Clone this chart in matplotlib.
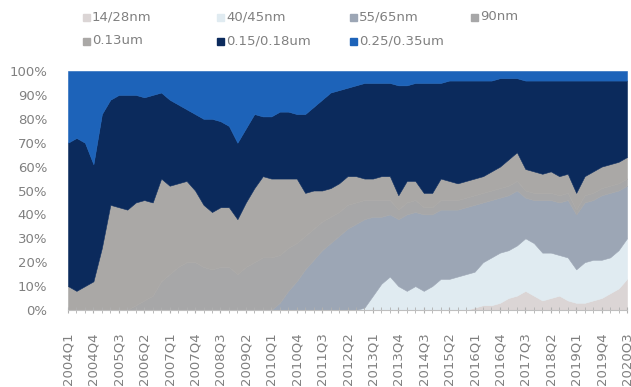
import matplotlib
matplotlib.use('Agg')
import matplotlib.pyplot as plt
from matplotlib.patches import Rectangle
import numpy as np

# Quarter labels 2004Q1 .. 2020Q3
quarters = ['{}Q{}'.format(y, q) for y in range(2004, 2021) for q in range(1, 5)][:67]

series_names = ['14/28nm', '40/45nm', '55/65nm', '90nm', '0.13um', '0.15/0.18um', '0.25/0.35um']
series_colors = ['#dbd5d5', '#e0ebf1', '#9ca6b5', '#a7a7a8', '#aaa8a6', '#0b2a5c', '#1d63b9']

# Shares (%) per quarter
nm_14_28 = [0]*48 + [1, 2, 2, 3, 5, 6, 8, 6, 4, 5, 6, 4, 3, 3, 4, 5, 7, 9, 13]
nm_40_45 = [0]*35 + [1, 6, 11, 14, 10, 8, 10, 8, 10, 13, 13, 14, 15,
                     15, 18, 20, 21, 20, 21, 22, 22, 20, 19, 17, 18, 14, 17, 17, 16, 15, 16, 17]
nm_55_65 = [0]*25 + [3, 8, 12, 17, 21, 25, 28, 31, 34, 36, 37, 33, 28, 26, 28, 32, 31, 32, 30,
                     29, 29, 28, 28, 28, 25, 24, 23, 23, 23, 17, 18, 22, 22, 22, 24, 23,
                     25, 25, 27, 27, 25, 22]
nm_90 = [0]*8 + [2, 4, 6, 12, 15, 18, 20, 20, 18, 17, 18, 18, 15, 18, 20, 22, 22, 20, 18, 16,
                 14, 13, 12, 11, 10, 10, 9, 8, 7, 7, 6, 4, 5, 5, 3, 3, 4, 4, 4, 4, 4, 4, 4,
                 4, 4, 4, 3, 3, 3, 3, 3, 3, 2, 3, 3, 3, 3, 3, 3]
um_013 = [10, 8, 10, 12, 26, 44, 43, 42, 43, 42, 39, 43, 37, 35, 34, 30, 26, 24, 25, 25,
          23, 27, 31, 34, 33, 32, 29, 27, 18, 16, 13, 12, 12, 12, 11, 9, 9, 10, 10, 6,
          9, 8, 6, 6, 9, 8, 7, 7, 7, 7, 8, 9, 11, 12, 9, 9, 8, 9, 8, 8, 7, 8, 9, 9, 9, 9, 9]
um_015_018 = [60, 64, 60, 49, 56, 44, 47, 48, 45, 43, 45, 36, 36, 33, 30, 32, 36, 39, 36, 34,
              32, 31, 31, 25, 26, 28, 28, 27, 33, 35, 38, 40, 39, 37, 38, 40, 40, 39, 39, 46,
              40, 41, 46, 46, 40, 42, 43, 42, 41, 40, 38, 37, 34, 31, 37, 38, 39, 38, 40, 39,
              47, 40, 38, 36, 35, 34, 32]
um_025_035 = [30, 28, 30, 39, 18, 12, 10, 10, 10, 11, 10, 9, 12, 14, 16, 18, 20, 20, 21, 23,
              30, 24, 18, 19, 19, 17, 17, 18, 18, 15, 12, 9, 8, 7, 6, 5, 5, 5, 5, 6,
              6, 5, 5, 5, 5, 4, 4, 4, 4, 4, 4, 3, 3, 3, 4, 4, 4, 4, 4, 4, 4, 4, 4, 4, 4, 4, 4]

series = [nm_14_28, nm_40_45, nm_55_65, nm_90, um_013, um_015_018, um_025_035]

W, H = 631, 387
fig = plt.figure(figsize=(W/100, H/100), dpi=100)
ax = fig.add_axes([68/W, 1 - 310/H, (627-68)/W, (310-71)/H])

x = np.arange(len(quarters))
polys = ax.stackplot(x, *series, colors=series_colors)
for p, c in zip(polys, series_colors):
    p.set_edgecolor(c)
    p.set_linewidth(0.4)

ax.set_xlim(0, len(quarters) - 1)
ax.set_ylim(0, 100)

txt = '#808080'
fs = 9.5
ax.set_yticks(np.arange(0, 101, 10))
ax.set_yticklabels(['{}%'.format(v) for v in range(0, 101, 10)])
ax.tick_params(axis='y', length=0, pad=15, labelsize=fs, labelcolor=txt)

ax.set_xticks(x[::3])
ax.set_xticklabels(quarters[::3], rotation=90)
ax.set_xticks(x, minor=True)
ax.tick_params(axis='x', which='both', direction='inout', length=4, color='#b0b0b0',
               labelsize=fs, labelcolor=txt, pad=14)

for s in ['top', 'right', 'left']:
    ax.spines[s].set_visible(False)
ax.spines['bottom'].set_color('#bfbfbf')

# Legend drawn by hand, two rows
legend_pos = [(83, 17), (217, 17), (350, 17), (471, 17), (83, 41), (217, 41), (350, 41)]
for name, col, (lx, ly) in zip(series_names, series_colors, legend_pos):
    fig.add_artist(Rectangle((lx/W, 1 - (ly + 3.5)/H), 7/W, 7/H, color=col,
                             transform=fig.transFigure))
    fig.text((lx + 9)/W, 1 - ly/H, name, color=txt, fontsize=fs, va='center', ha='left')

fig.savefig('out.png', dpi=100)
